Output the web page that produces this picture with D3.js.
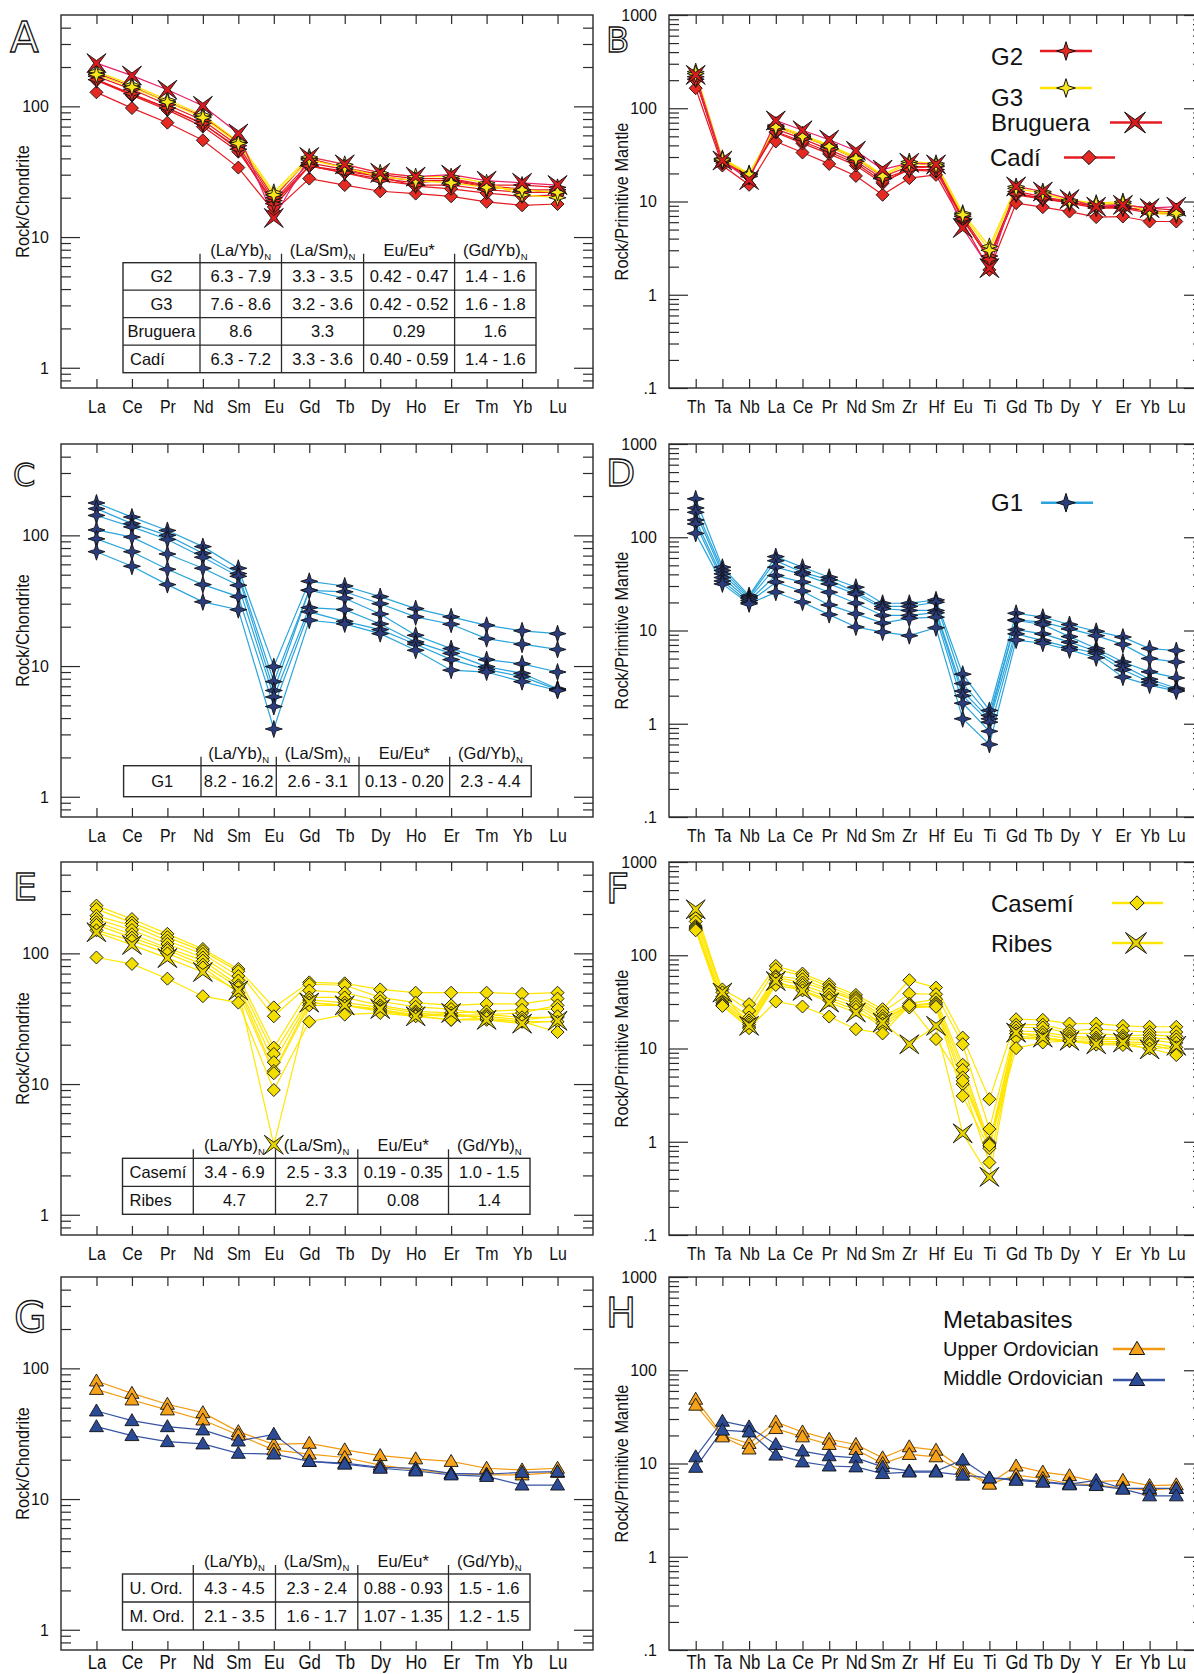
<!DOCTYPE html>
<html><head><meta charset="utf-8">
<script src="https://cdn.jsdelivr.net/npm/d3@7"></script>
<style>body{margin:0;background:#fff;} svg{display:block;}</style>
</head><body><svg id="c" width="1194" height="1674"></svg>
<script>
// ---------- categories & ticks ----------
const REE = ["La","Ce","Pr","Nd","Sm","Eu","Gd","Tb","Dy","Ho","Er","Tm","Yb","Lu"];
const PM = ["Th","Ta","Nb","La","Ce","Pr","Nd","Sm","Zr","Hf","Eu","Ti","Gd","Tb","Dy","Y","Er","Yb","Lu"];
const REE_MAJOR = [1,10,100];
const REE_MAJOR_LABELS = ["1","10","100"];
const PM_MAJOR = [0.1,1,10,100,1000];
const PM_MAJOR_LABELS = [".1","1","10","100","1000"];
const TABLE_HEAD = [["(La/Yb)","N"],["(La/Sm)","N"],["Eu/Eu*",""],["(Gd/Yb)","N"]];

// ---------- Panel A (chondrite) ----------
const A_Cadi = [
 [128,97,75,55,34,15.7,28,25,22.4,21.5,20.5,18.6,17.5,17.9],
 [158,121,94,70,45,18.5,35,31,28,26,27.5,24.5,23.4,21.5],
 [160,123,97,73.5,48,17,35,32,29,24.5,23.4,21.7,20.5,21]];
const A_G2 = [
 [170,135,103,78,50,19,37,33,29,27,27,24,23,23],
 [160,125,97,74,47,18,35,31,27,25,25,23,22,22],
 [180,142,108,84,53,20,40,34,30,28,28,25,25,24]];
const A_G3 = [
 [185,146,112,86,54,22,41,36,31,29,29,26,21,20],
 [175,140,108,82,52,21,39,34,29,27,26,24,23,22]];
const A_Bruguera = [[214,172,134,101,62,14,41,36,31,29,30,27,26,25]];
const A_TABLE = [["G2","6.3 - 7.9","3.3 - 3.5","0.42 - 0.47","1.4 - 1.6"],
 ["G3","7.6 - 8.6","3.2 - 3.6","0.42 - 0.52","1.6 - 1.8"],
 ["Bruguera","8.6","3.3","0.29","1.6"],
 ["Cadí","6.3 - 7.2","3.3 - 3.6","0.40 - 0.59","1.4 - 1.6"]];

// ---------- Panel B (primitive mantle) ----------
const B_Cadi = [
 [164,24.3,15.1,44,33.5,25.3,18.8,11.8,17.8,19.3,6.0,1.85,9.6,8.7,7.8,6.8,6.9,6.1,6.1],
 [205,25.7,19.3,55,42,32.4,24.3,15.7,22.8,23.7,6.4,2.47,11.8,10.6,9.8,8.8,8.5,8.1,7.5],
 [200,27,18.5,56,44,34,25.7,16.4,21.8,21,6.6,2.37,12.3,10.8,10,9.2,9.2,8.5,8.1]];
const B_G2 = [
 [218,28,19.3,63.6,50,38.8,29,18.5,23.7,23.7,6.9,2.6,12.8,11.3,10,8.8,8.8,7.8,7.8],
 [205,27,18.5,60,47,36,27,17.5,22,22,6.5,2.4,12,10.8,9.6,8.5,8.5,7.5,7.5]];
const B_G3 = [
 [247,29,20,66,52,40.5,30,19.3,26.8,25.7,7.5,3.3,14.5,12.8,10.4,9.6,10,7.5,7.2],
 [235,28,19.5,63,50,39,29,18.8,25.5,24.5,7.2,3.0,13.8,12.3,10.1,9.3,9.6,7.8,7.5]];
const B_Bruguera = [[228,27.5,17,74,58,46,35,22,26,25,5.2,1.93,14.5,12.8,10.6,8.8,9.2,8.5,8.8]];

// ---------- Panel C (chondrite, G1) ----------
const C_G1 = [
 [177,138,109,82,56,9.9,44.5,41,34,27.5,23.8,20.5,18.6,17.7],
 [160,123,100,73,51,7.6,38,37,30,23.8,20.9,16.2,14.7,13.4],
 [142,116,93,68,48.6,6.5,38,33,25,17.2,13.6,11.2,10.4,9.0],
 [110,97,72,56,41.5,5.8,28,27,21,15.3,12.5,9.9,8.8,6.7],
 [94,75,55,42,34,4.9,26,22,19,14.7,11.2,9.4,8.3,6.6],
 [75,58,42,31,27,3.3,22.4,21,17.7,13.2,9.3,9.0,7.6,6.5]];
const C_TABLE = [["G1","8.2 - 16.2","2.6 - 3.1","0.13 - 0.20","2.3 - 4.4"]];

// ---------- Panel D (primitive mantle, G1) ----------
const D_G1 = [
 [258,47.7,23.7,62,47.7,37.3,29.1,19.6,19.6,21.3,3.4,1.39,15.3,13.9,11.6,9.8,8.5,6.4,6.1],
 [206,44,22.8,56,42,34.9,25.7,18.1,18.1,20.1,2.7,1.23,13,12.3,10.4,8.8,7.1,5.0,4.6],
 [185,40.5,22,47.7,40,31.6,24.5,17.1,16.4,16.4,2.24,1.13,12.8,11.6,8.6,6.4,4.6,3.6,3.1],
 [153,37,21,38.8,33,25.7,19.6,14.5,14.5,15.5,2.0,1.04,10.2,9.2,7.5,6.0,4.2,3.0,2.4],
 [139,34,20,33,26.4,18.8,15.1,12,13.5,13.9,1.66,0.83,9.2,7.8,6.6,5.7,3.8,2.8,2.3],
 [110,31.6,19.3,25.7,20.1,14.8,10.9,9.6,8.8,10.7,1.13,0.60,7.9,7.3,6.2,5.1,3.16,2.6,2.24]];

// ---------- Panel E (chondrite, Casemí & Ribes) ----------
const E_Casemi = [
 [232,183,141,108,76,38.6,60,59,53,50,50,50,49,50],
 [218,172,133,104,73,33,58,57,46,42,40,41,41,45],
 [194,163,125,99,67,19,52,50,43,39,37.5,34,35,40],
 [183,151,118,93,62,17,46,46,40,36,35,36,37,37.5],
 [173,140,110,88,57,14.7,44,42,38.6,35,33.4,34,32.4,32.4],
 [165,132,106,82,55,12.6,42,40,37,34,33,33,31,33],
 [150,125,100,78,50,12.1,40,40,36,33.4,31,31,30,30],
 [93,83,64,47,42,9.0,30,34,35,33,31,32,30,25]];
const E_Ribes = [[145,116,92,72,52,3.43,42,40,37.5,33,35,31,29,30.5]];
const E_TABLE = [["Casemí","3.4 - 6.9","2.5 - 3.3","0.19 - 0.35","1.0 - 1.5"],
 ["Ribes","4.7","2.7","0.08","1.4"]];

// ---------- Panel F (primitive mantle, Casemí & Ribes) ----------
const F_Casemi = [
 [260,43,29.9,76.9,63.6,48.9,37.6,26.4,54,45,13.1,2.86,20.6,20.3,18.5,18.5,17.5,17.1,17.1],
 [253,40,25.3,70.8,60,46,35.5,24.5,38.8,38.2,11.1,1.37,18,18,15.5,16.1,15.5,15,15],
 [230,36,21.5,60,55.3,43,34,22.4,30.3,33.8,6.7,0.98,16.8,16.8,14.5,14.5,13.7,14,13.5],
 [206,33,20,58,51,41.5,32.4,21,29,31,5.9,0.9,15.5,15,13.5,13.1,13,13,12.5],
 [200,31,19,55,48,38,30,20,28.6,29.9,4.9,0.95,14.5,14,12.8,12.5,12.5,12.3,11.5],
 [195,30,18,50,45,35,28,18.5,28,28.5,4.15,0.6,13.5,13,12.1,12,11.8,11.5,10.3],
 [190,29,17,48,42,33,26,17,27.5,28,3.1,0.85,13,12.5,12,11.5,11.2,11,9.5],
 [185,28.6,16.5,31.9,28.2,22,16.1,14.5,29,12.6,4.5,0.92,10.1,11.6,12.1,11,10.9,10,8.5]];
const F_Ribes = [[311,39.8,17.5,53,41.5,31.1,24.3,19,11.1,17.5,1.23,0.42,14.8,13.1,12.1,11.1,11.6,9.8,10.7]];

// ---------- Panel G (chondrite, metabasites) ----------
const G_Upper = [
 [80,64.4,53.1,45.8,32.8,26.2,26.7,23.8,21.5,20.3,19.4,17.2,16.7,17.2],
 [69,57.3,48.1,40.3,30.9,23.8,22.1,20.8,18.2,16.7,15.7,15.3,15.3,16]];
const G_Middle = [
 [47.2,39.8,35.8,33.8,27.8,31.3,19.4,18.8,17.5,17.2,15.7,15.5,16,16.2],
 [35.8,30.6,27.5,26.4,22.4,22.1,19.4,18.5,17.2,16.4,15.3,14.9,12.8,12.8]];
const G_TABLE = [["U. Ord.","4.3 - 4.5","2.3 - 2.4","0.88 - 0.93","1.5 - 1.6"],
 ["M. Ord.","2.1 - 3.5","1.6 - 1.7","1.07 - 1.35","1.2 - 1.5"]];

// ---------- Panel H (primitive mantle, metabasites) ----------
const H_Upper = [
 [48.9,20.1,16.4,27.9,21.8,18.2,16,11.5,15.1,13.9,8.8,6.1,9.4,8.1,7.4,6.4,6.6,5.8,5.9],
 [42.2,19.3,14.3,23.7,19.3,16,14.1,10,12.5,11.8,8.1,6.0,7.5,6.9,6.1,5.9,5.4,5.2,5.4]];
const H_Middle = [
 [11.8,28.4,24.7,16,13.6,12.1,11.5,9.2,8.3,8.3,10.9,7.0,6.8,6.4,6.0,6.6,5.4,5.4,5.4],
 [9.1,22.8,21.8,12.3,10.4,9.4,9.2,7.8,8.1,8.1,7.5,7.0,6.6,6.3,5.9,5.8,5.3,4.5,4.5]];

// ---------- styles ----------
const FONT = "'Liberation Sans', Arial, Helvetica, sans-serif";
const FRAME = "#2a2a2a";
const TXT = "#111";
const ST = {
  cadi:  {line:"#e51c23", fill:"#e42a22", marker:"diamond"},
  g2:    {line:"#e51c23", fill:"#e42a22", marker:"star"},
  g3:    {line:"#ffe400", fill:"#f8e71c", marker:"star"},
  bru:   {line:"#e8206a", fill:"#d81b1f", marker:"x", legendLine:"#e51c23"},
  g1:    {line:"#2aa4dd", fill:"#2b3d7e", marker:"star"},
  casemi:{line:"#ffe600", fill:"#f3de00", marker:"diamond"},
  ribes: {line:"#ffe600", fill:"#e8d400", marker:"x"},
  upper: {line:"#f39a10", fill:"#f7a21b", marker:"tri"},
  middle:{line:"#3654a3", fill:"#2c4b97", marker:"tri"}
};

function markerPath(type, k){
  k = k || 1;
  if(type==="diamond"){const r=6.5*k;return `M0,${-r}L${r},0L0,${r}L${-r},0Z`;}
  if(type==="star"){const r=8.5*k,w=r*0.24;return `M0,${-r}L${w},${-w}L${r},0L${w},${w}L0,${r}L${-w},${w}L${-r},0L${-w},${-w}Z`;}
  if(type==="x"){const a=9.5*k,w=2.6*k;return `M${-a},${-a}L0,${-w}L${a},${-a}L${w},0L${a},${a}L0,${w}L${-a},${a}L${-w},0Z`;}
  if(type==="tri"){const s=7*k;return `M0,${-7*k}L${s},${5*k}L${-s},${5*k}Z`;}
}

const svg = d3.select("#c");
svg.append("rect").attr("width",1194).attr("height",1674).attr("fill","#fff");

const LEFT = {x0:61, x1:593};
const RIGHT = {x0:669, x1:1203};
const ROWS = [{y0:15,y1:388,pad:12,fs:18.5},{y0:444,y1:817,pad:12,fs:18.5},{y0:862,y1:1235,pad:12,fs:18.5},{y0:1277,y1:1650,pad:5,fs:19.5}];

function minorTicks(dom){
  const out=[];
  for(let e=-2;e<=3;e++){for(let m=2;m<=9;m++){const v=m*Math.pow(10,e); if(v>dom[0]*1.001 && v<dom[1]*0.999) out.push(v);}}
  if(dom[0]<1 && dom[0]>0.1){ [0.8,0.9].forEach(v=>{ if(!out.includes(v)&&v>dom[0]) out.push(v);}); }
  return out;
}

function styleAxis(a){
  a.select(".domain").remove();
  a.attr("font-family",FONT);
  a.selectAll("line").attr("stroke",FRAME).attr("stroke-width",1.2);
}

function drawTable(g, t, rows){
  const c = t.cols;
  const nR = rows.length;
  const bottom = t.top + nR*t.rowH;
  g.append("rect").attr("x",c[0]).attr("y",t.top).attr("width",c[5]-c[0]).attr("height",bottom-t.top)
    .attr("fill","#fff").attr("stroke",FRAME).attr("stroke-width",1.4);
  for(let i=1;i<5;i++){
    g.append("line").attr("x1",c[i]).attr("x2",c[i]).attr("y1",t.top-9).attr("y2",bottom).attr("stroke",FRAME).attr("stroke-width",1.3);
  }
  for(let r=1;r<nR;r++){
    g.append("line").attr("x1",c[0]).attr("x2",c[5]).attr("y1",t.top+r*t.rowH).attr("y2",t.top+r*t.rowH).attr("stroke",FRAME).attr("stroke-width",1.3);
  }
  TABLE_HEAD.forEach((h,i)=>{
    const tx = g.append("text").attr("x",(c[i+1]+c[i+2])/2).attr("y",t.top-7)
      .attr("text-anchor","middle").attr("font-family",FONT).attr("font-size",16.5).attr("fill",TXT);
    tx.append("tspan").text(h[0]);
    if(h[1]) tx.append("tspan").attr("font-size",9.5).attr("dy",4).text(h[1]);
  });
  rows.forEach((row,r)=>{
    const yb = t.top + r*t.rowH + t.rowH/2 + 6;
    row.forEach((cell,j)=>{
      let x, anchor="middle";
      if(j===0 && t.leftAlign[r]){x=c[0]+7; anchor="start";}
      else x=(c[j]+c[j+1])/2;
      g.append("text").attr("x",x).attr("y",yb).attr("text-anchor",anchor)
        .attr("font-family",FONT).attr("font-size",16.5).attr("fill",TXT).text(cell);
    });
  });
}

function drawPanel(p){
  const side = p.side==="L"?LEFT:RIGHT;
  const row = ROWS[p.row];
  const isREE = p.type==="REE";
  const cats = isREE?REE:PM;
  const dom = isREE?[0.7,500]:[0.1,1000];
  const major = isREE?REE_MAJOR:PM_MAJOR;
  const majorLab = isREE?REE_MAJOR_LABELS:PM_MAJOR_LABELS;
  const x = d3.scalePoint().domain(cats).range([side.x0, side.x1]).padding(1);
  const y = d3.scaleLog().domain(dom).range([row.y1, row.y0]);
  const g = svg.append("g");
  const minor = minorTicks(dom);

  g.append("g").attr("transform",`translate(${side.x0},0)`)
    .call(d3.axisLeft(y).tickValues(major).tickSize(-19).tickPadding(13).tickFormat((d,i)=>majorLab[i]))
    .call(styleAxis)
    .call(a=>a.selectAll("text").attr("font-size",17).attr("fill",TXT).attr("transform","scale(0.94,1)"));
  g.append("g").attr("transform",`translate(${side.x0},0)`)
    .call(d3.axisLeft(y).tickValues(minor).tickSize(-10).tickFormat("")).call(styleAxis);
  g.append("g").attr("transform",`translate(${side.x1},0)`)
    .call(d3.axisRight(y).tickValues(major).tickSize(-19).tickFormat("")).call(styleAxis);
  g.append("g").attr("transform",`translate(${side.x1},0)`)
    .call(d3.axisRight(y).tickValues(minor).tickSize(-10).tickFormat("")).call(styleAxis);
  g.append("g").attr("transform",`translate(0,${row.y0})`)
    .call(d3.axisTop(x).tickSize(-9).tickFormat("")).call(styleAxis);
  g.append("g").attr("transform",`translate(0,${row.y1})`)
    .call(d3.axisBottom(x).tickSize(-9).tickPadding(row.pad))
    .call(styleAxis)
    .call(a=>a.selectAll("text").attr("font-size",row.fs).attr("fill",TXT).attr("transform","scale(0.86,1)"));
  g.append("rect").attr("x",side.x0).attr("y",row.y0).attr("width",side.x1-side.x0).attr("height",row.y1-row.y0)
    .attr("fill","none").attr("stroke",FRAME).attr("stroke-width",1.4);
  const tx = p.side==="L"?29:628;
  g.append("text").attr("transform",`translate(${tx},${(row.y0+row.y1)/2}) rotate(-90) scale(0.86,1)`)
    .attr("text-anchor","middle").attr("font-family",FONT).attr("font-size",19).attr("fill",TXT)
    .text(isREE?"Rock/Chondrite":"Rock/Primitive Mantle");
  g.append("text").attr("x",p.letter.x).attr("y",p.letter.y).attr("font-family","'DejaVu Sans', sans-serif")
    .attr("font-size",p.letter.s).attr("fill","#fff").attr("stroke","#111").attr("stroke-width",1.3).text(p.letter.t);
  if(p.table) drawTable(g, p.table, p.table.rows);
  const line = d3.line().x((d,i)=>x(cats[i])).y(d=>y(d));
  p.series.forEach(s=>{
    g.append("g").selectAll("path").data(s.data).join("path")
      .attr("d",line).attr("fill","none").attr("stroke",s.st.line).attr("stroke-width",1.2);
  });
  p.series.forEach(s=>{
    s.data.forEach(arr=>{
      g.append("g").selectAll("path").data(arr).join("path")
        .attr("d",markerPath(s.st.marker))
        .attr("transform",(d,i)=>`translate(${x(cats[i])},${y(d)})`)
        .attr("fill",s.st.fill).attr("stroke","#111").attr("stroke-width",0.9);
    });
  });
  if(p.legend){
    p.legend.forEach(L=>{
      if(L.title){
        g.append("text").attr("x",L.tx).attr("y",L.ty).attr("font-family",FONT).attr("font-size",L.fs).attr("fill",TXT).text(L.title);
        return;
      }
      g.append("text").attr("x",L.tx).attr("y",L.ty).attr("font-family",FONT).attr("font-size",L.fs).attr("fill",TXT).text(L.label);
      g.append("line").attr("x1",L.lx1).attr("x2",L.lx2).attr("y1",L.ly).attr("y2",L.ly)
        .attr("stroke",L.st.legendLine||L.st.line).attr("stroke-width",2.6);
      g.append("path").attr("d",markerPath(L.st.marker,1.1)).attr("transform",`translate(${L.mx},${L.ly})`)
        .attr("fill",L.st.fill).attr("stroke","#111").attr("stroke-width",1);
    });
  }
}

const panels = [
 {side:"L",row:0,type:"REE",letter:{t:"A",x:10,y:52,s:42},
  series:[{data:A_Cadi,st:ST.cadi},{data:A_G2,st:ST.g2},{data:A_G3,st:ST.g3},{data:A_Bruguera,st:ST.bru}],
  table:{rows:A_TABLE,cols:[123,200,281.5,363.6,454.6,536],top:262.7,rowH:27.5,leftAlign:[false,false,false,true]}},
 {side:"R",row:0,type:"PM",letter:{t:"B",x:606,y:52,s:34},
  series:[{data:B_Cadi,st:ST.cadi},{data:B_G2,st:ST.g2},{data:B_G3,st:ST.g3},{data:B_Bruguera,st:ST.bru}],
  legend:[
   {label:"G2",tx:991,ty:65,fs:24,lx1:1040,lx2:1092,ly:51,mx:1066,st:ST.g2},
   {label:"G3",tx:991,ty:106,fs:24,lx1:1040,lx2:1092,ly:88,mx:1066,st:ST.g3},
   {label:"Bruguera",tx:991,ty:131,fs:24,lx1:1110,lx2:1162,ly:122.5,mx:1135,st:ST.bru},
   {label:"Cadí",tx:990,ty:166,fs:24,lx1:1064,lx2:1115,ly:157.5,mx:1089,st:ST.cadi}]},
 {side:"L",row:1,type:"REE",letter:{t:"C",x:13,y:486,s:32},
  series:[{data:C_G1,st:ST.g1}],
  table:{rows:C_TABLE,cols:[123.6,201,276.3,359,449.7,531.2],top:765.7,rowH:31,leftAlign:[false]}},
 {side:"R",row:1,type:"PM",letter:{t:"D",x:606,y:486,s:38},
  series:[{data:D_G1,st:ST.g1}],
  legend:[{label:"G1",tx:991,ty:511,fs:24,lx1:1041,lx2:1093,ly:502.7,mx:1066,st:ST.g1}]},
 {side:"L",row:2,type:"REE",letter:{t:"E",x:13,y:900,s:38},
  series:[{data:E_Casemi,st:ST.casemi},{data:E_Ribes,st:ST.ribes}],
  table:{rows:E_TABLE,cols:[122.5,193.3,275.5,357.8,448.5,530],top:1158.3,rowH:28,leftAlign:[true,true]}},
 {side:"R",row:2,type:"PM",letter:{t:"F",x:606,y:903,s:40},
  series:[{data:F_Casemi,st:ST.casemi},{data:F_Ribes,st:ST.ribes}],
  legend:[{label:"Casemí",tx:991,ty:912,fs:24,lx1:1112,lx2:1163,ly:903,mx:1137,st:ST.casemi},
          {label:"Ribes",tx:991,ty:952,fs:24,lx1:1112,lx2:1163,ly:943,mx:1136,st:ST.ribes}]},
 {side:"L",row:3,type:"REE",letter:{t:"G",x:14,y:1332,s:42},
  series:[{data:G_Upper,st:ST.upper},{data:G_Middle,st:ST.middle}],
  table:{rows:G_TABLE,cols:[122.5,193.3,275.5,357.8,448.5,530],top:1574,rowH:28,leftAlign:[true,true]}},
 {side:"R",row:3,type:"PM",letter:{t:"H",x:606,y:1327,s:40},
  series:[{data:H_Upper,st:ST.upper},{data:H_Middle,st:ST.middle}],
  legend:[{title:"Metabasites",tx:943,ty:1328,fs:24},
          {label:"Upper Ordovician",tx:943,ty:1356,fs:20,lx1:1113,lx2:1165,ly:1349,mx:1137,st:ST.upper},
          {label:"Middle Ordovician",tx:943,ty:1385,fs:20,lx1:1113,lx2:1165,ly:1380,mx:1137,st:ST.middle}]}
];

panels.forEach(drawPanel);
</script>
</body></html>
